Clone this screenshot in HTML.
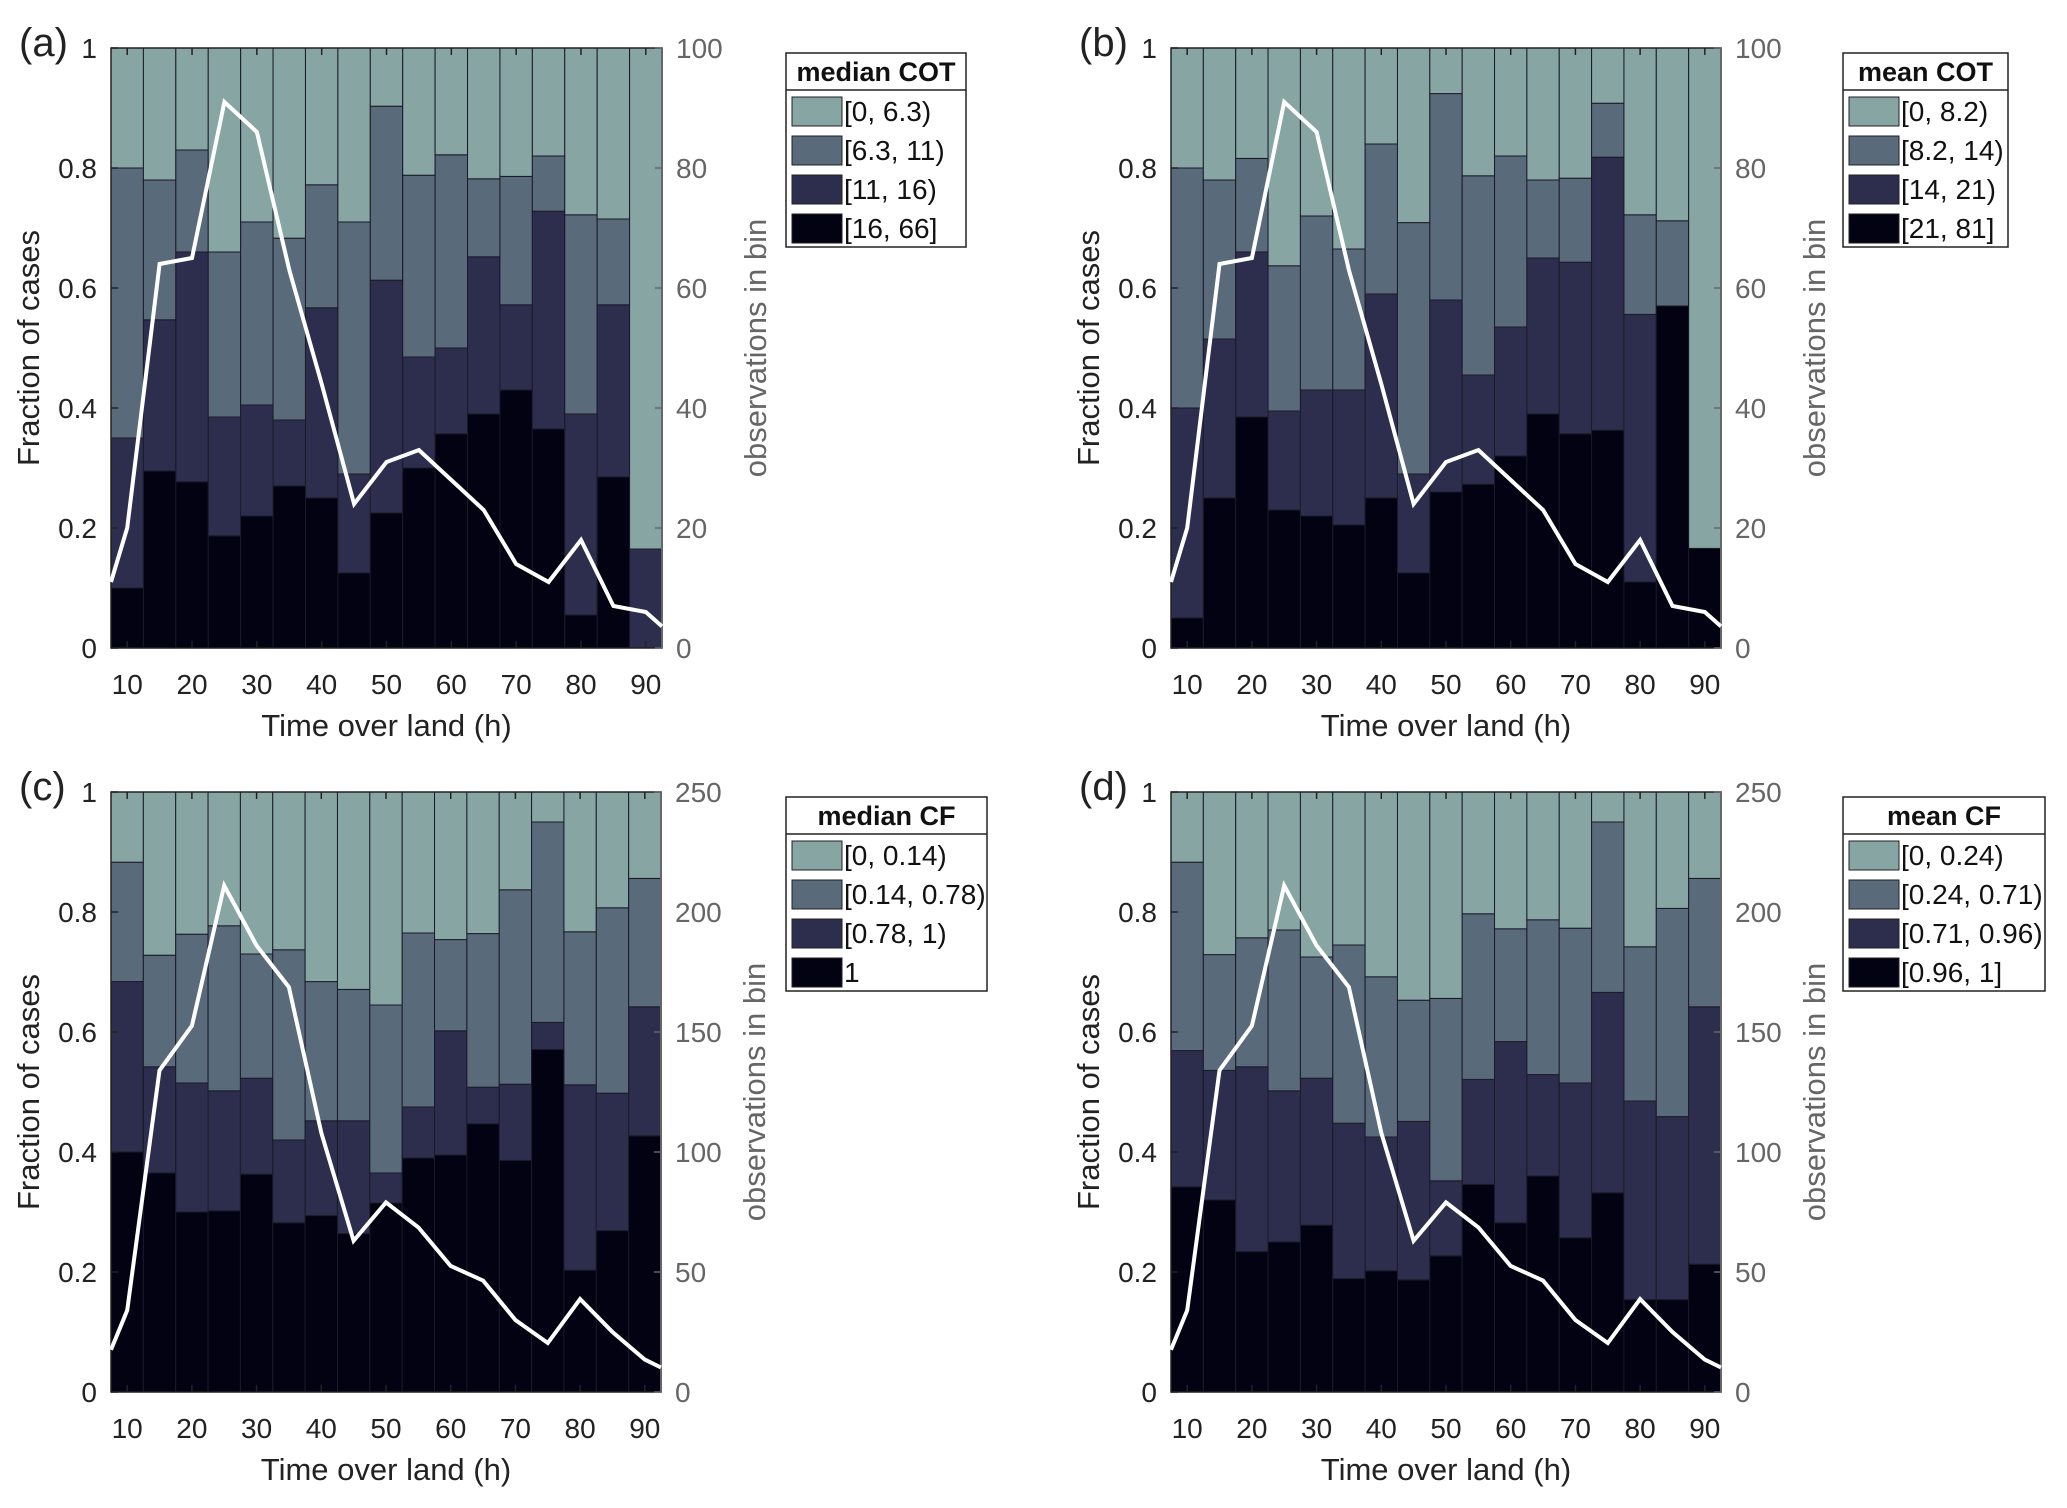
<!DOCTYPE html>
<html><head><meta charset="utf-8"><style>
html,body{margin:0;padding:0;background:#fff;}
svg{display:block;font-family:"Liberation Sans",sans-serif;}
</style></head><body>
<svg id="fig" width="2067" height="1508" viewBox="0 0 2067 1508" xmlns="http://www.w3.org/2000/svg"></svg>
<script>
// shared
const binCenters = [10,15,20,25,30,35,40,45,50,55,60,65,70,75,80,85,90];
const lineX = [7.5,10,15,20,25,30,35,40,45,50,55,60,65,70,75,80,85,90,92.5];
const xTicks = [10,20,30,40,50,60,70,80,90];
const yTicks = [0,0.2,0.4,0.6,0.8,1];
const yTickLabels = ["0","0.2","0.4","0.6","0.8","1"];
const countsCOT = [11,20,64,65,91,86,63,44,24,31,33,28,23,14,11,18,7,6,3.6];
const countsCF = [17.6,34,134,152.6,211,186,168.7,108,63,79,68.6,52.5,46.4,30,20.4,38.7,25,13.5,10.2];
const rTicksCOT = [0,20,40,60,80,100];
const rTicksCF = [0,50,100,150,200,250];
// panel a (cumulative fraction tops: black, navy, slate)
const aBlack = [0.10,0.295,0.277,0.187,0.22,0.27,0.25,0.125,0.225,0.30,0.357,0.39,0.43,0.365,0.055,0.285,0.0];
const aNavy = [0.35,0.547,0.66,0.385,0.405,0.38,0.567,0.29,0.613,0.485,0.50,0.652,0.572,0.728,0.39,0.572,0.165];
const aSlate = [0.80,0.78,0.83,0.66,0.71,0.683,0.772,0.71,0.903,0.788,0.822,0.782,0.786,0.82,0.722,0.715,0.165];
const aLegend = ["[0, 6.3)","[6.3, 11)","[11, 16)","[16, 66]"];
// panel b
const bBlack = [0.05,0.25,0.385,0.23,0.22,0.205,0.25,0.125,0.26,0.273,0.32,0.39,0.357,0.363,0.11,0.57,0.166];
const bNavy = [0.40,0.515,0.66,0.395,0.43,0.43,0.59,0.29,0.58,0.455,0.535,0.65,0.643,0.818,0.556,0.57,0.166];
const bSlate = [0.80,0.78,0.816,0.637,0.72,0.665,0.84,0.709,0.924,0.787,0.82,0.78,0.783,0.908,0.722,0.712,0.166];
const bLegend = ["[0, 8.2)","[8.2, 14)","[14, 21)","[21, 81]"];
// panel c
const cBlack = [0.40,0.365,0.30,0.302,0.363,0.282,0.294,0.264,0.315,0.39,0.395,0.447,0.386,0.571,0.203,0.269,0.427];
const cNavy = [0.684,0.542,0.515,0.502,0.523,0.42,0.452,0.452,0.365,0.475,0.602,0.508,0.513,0.616,0.512,0.498,0.642];
const cSlate = [0.883,0.728,0.763,0.777,0.73,0.737,0.684,0.671,0.645,0.765,0.754,0.764,0.837,0.95,0.767,0.807,0.856];
const cLegend = ["[0, 0.14)","[0.14, 0.78)","[0.78, 1)","1"];
// panel d
const dBlack = [0.342,0.32,0.234,0.25,0.278,0.189,0.202,0.187,0.227,0.346,0.282,0.36,0.257,0.332,0.154,0.154,0.213];
const dNavy = [0.569,0.536,0.542,0.502,0.523,0.448,0.425,0.451,0.352,0.521,0.584,0.529,0.515,0.666,0.485,0.459,0.642];
const dSlate = [0.883,0.729,0.757,0.77,0.725,0.745,0.692,0.653,0.656,0.797,0.772,0.787,0.773,0.95,0.742,0.806,0.856];
const dLegend = ["[0, 0.24)","[0.24, 0.71)","[0.71, 0.96)","[0.96, 1]"];

const NS="http://www.w3.org/2000/svg";
const svg=document.getElementById('fig');
const COLORS=["#030213","#2d2d4e","#596a7a","#86a5a3"];
function mk(tag,attrs,parent){const e=document.createElementNS(NS,tag);for(const k in attrs)e.setAttribute(k,attrs[k]);(parent||svg).appendChild(e);return e;}

function panel(p){
  const g=mk('g',{});
  
  
  const X=v=>p.L+(v-7.5)/85*(p.R-p.L);
  const Y=v=>p.B-v*(p.B-p.T);
  const Y2=v=>p.B-v/p.rMax*(p.B-p.T);
  const bw=(p.R-p.L)/17;
  for(let i=0;i<binCenters.length;i++){
    const x0=X(binCenters[i]-2.5);
    const levels=[0,p.black[i],p.navy[i],p.slate[i],1];
    for(let k=0;k<4;k++){
      const y0=Y(levels[k+1]),y1=Y(levels[k]);
      if(y1-y0<=0)continue;
      const r=mk('rect',{x:x0,y:y0,width:bw,height:y1-y0,fill:COLORS[k],stroke:"#1a1a28","stroke-width":1},g);
      
      
    }
  }
  const box=mk('rect',{x:p.L,y:p.T,width:p.R-p.L,height:p.B-p.T,fill:"none",stroke:"#222","stroke-width":1.5},g);
  
  
  mk('line',{x1:p.R,y1:p.T,x2:p.R,y2:p.B,stroke:"#666","stroke-width":2},g);
  let d='';
  for(let i=0;i<lineX.length;i++){d+=(i?'L':'M')+X(lineX[i]).toFixed(1)+','+Y2(p.counts[i]).toFixed(1);}
  const ln=mk('path',{d:d,fill:"none",stroke:"#fff","stroke-width":4,"stroke-linejoin":"miter"},g);
  
  
  for(const t of xTicks){
    const x=X(t);
    mk('line',{x1:x,y1:p.B,x2:x,y2:p.B-7,stroke:"#222","stroke-width":1.5},g);
    mk('line',{x1:x,y1:p.T,x2:x,y2:p.T+7,stroke:"#222","stroke-width":1.5},g);
    const tx=mk('text',{x:x,y:p.B+46,"font-size":28,"text-anchor":"middle",fill:"#222"},g);
    tx.textContent=t;
    
    
  }
  for(let i=0;i<yTicks.length;i++){
    const y=Y(yTicks[i]);
    mk('line',{x1:p.L,y1:y,x2:p.L+7,y2:y,stroke:"#222","stroke-width":1.5},g);
    const tx=mk('text',{x:p.L-14,y:y+10,"font-size":28,"text-anchor":"end",fill:"#222"},g);
    tx.textContent=yTickLabels[i];
    
    
  }
  for(const t of p.rTicks){
    const y=Y2(t);
    mk('line',{x1:p.R,y1:y,x2:p.R-7,y2:y,stroke:"#666","stroke-width":1.5},g);
    const tx=mk('text',{x:p.R+14,y:y+10,"font-size":28,"text-anchor":"start",fill:"#666"},g);
    tx.textContent=t;
    
    
  }
  const cy=(p.T+p.B)/2;
  const yl=mk('text',{x:0,y:0,"font-size":31,"text-anchor":"middle",fill:"#222",transform:`translate(${p.L-72},${cy}) rotate(-90)`},g);
  yl.textContent="Fraction of cases";
  
  
  const rl=mk('text',{x:0,y:0,"font-size":31,"text-anchor":"middle",fill:"#666",transform:`translate(${p.R+104},${cy}) rotate(-90)`},g);
  rl.textContent="observations in bin";
  
  
  const xl=mk('text',{x:(p.L+p.R)/2,y:p.B+88,"font-size":31,"text-anchor":"middle",fill:"#222"},g);
  xl.textContent="Time over land (h)";
  
  
  const pl=mk('text',{x:p.L-92,y:p.T+8,"font-size":40,fill:"#222"},g);
  pl.textContent="("+p.id+")";
  
  
  const lg=mk('g',{},g);
  
  
  const lx=p.legX,ly=p.T+5,lw=p.legW,lh=194;
  mk('rect',{x:lx,y:ly,width:lw,height:lh,fill:"#fff",stroke:"#222","stroke-width":1.5},lg);
  mk('line',{x1:lx,y1:ly+37,x2:lx+lw,y2:ly+37,stroke:"#222","stroke-width":1.5},lg);
  const tt=mk('text',{x:lx+lw/2,y:ly+28,"font-size":27,"font-weight":"bold","text-anchor":"middle",fill:"#111"},lg);
  tt.textContent=p.legTitle;
  
  
  for(let k=0;k<4;k++){
    const ey=ly+58+k*39;
    const e=mk('g',{},lg);
    
    
    mk('rect',{x:lx+6,y:ey-14,width:50,height:29,fill:COLORS[3-k],stroke:"#222","stroke-width":1},e);
    const t=mk('text',{x:lx+58,y:ey+10,"font-size":28,fill:"#111"},e);
    t.textContent=p.legend[k];
  }
}
panel({id:'a',L:111,R:662,T:48,B:648,black:aBlack,navy:aNavy,slate:aSlate,counts:countsCOT,rMax:100,rTicks:rTicksCOT,legX:786,legW:180,legTitle:"median COT",legend:aLegend});
panel({id:'b',L:1171,R:1721,T:48,B:648,black:bBlack,navy:bNavy,slate:bSlate,counts:countsCOT,rMax:100,rTicks:rTicksCOT,legX:1843,legW:165,legTitle:"mean COT",legend:bLegend});
panel({id:'c',L:111,R:661,T:792,B:1392,black:cBlack,navy:cNavy,slate:cSlate,counts:countsCF,rMax:250,rTicks:rTicksCF,legX:786,legW:201,legTitle:"median CF",legend:cLegend});
panel({id:'d',L:1171,R:1721,T:792,B:1392,black:dBlack,navy:dNavy,slate:dSlate,counts:countsCF,rMax:250,rTicks:rTicksCF,legX:1843,legW:202,legTitle:"mean CF",legend:dLegend});
</script>
</body></html>
